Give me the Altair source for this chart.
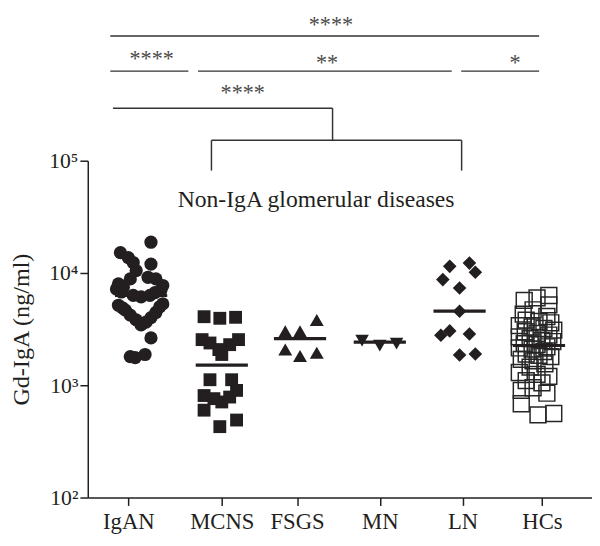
import altair as alt
import pandas as pd

# ---------------- data ----------------
groups = ["IgAN", "MCNS", "FSGS", "MN", "LN", "HCs"]
group_pos = [0.0, 1.13, 2.04, 3.04, 4.04, 5.0]

igan = [18800, 15200, 13700, 12400, 10500, 12000, 8850, 7500, 6770, 9160, 8850, 7740,
        7000, 6310, 6120, 6310, 6680, 8000, 7200, 5160, 4900, 4670, 4220, 3820, 3450,
        3650, 4000, 4450, 5000, 5300, 2640, 1880, 1760, 1800]
igan_jit = [23, -8, 0, 5, 8, 23, 2, -5, -7, 20, 28, 35, 33, 5, 13, 22, 27, -10, -12,
            -10, -6, -3, 2, 8, 13, 18, 23, 28, 32, 35, 23, 17, 7, 2]

mcns = [4080, 3950, 4030, 2550, 2380, 2080, 1880, 2300, 2550, 1120, 1120, 900, 810,
        760, 710, 785, 600, 428, 490]
mcns_jit = [-18, -2, 14, -20, -12, -3, 0, 8, 17, -12, 10, 15, -18, -8, 0, 8, -18, -2, 15]

fsgs = [3810, 3020, 3020, 2080, 1820, 1950]
fsgs_jit = [20, -12, 3, -12, 3, 20]

mn = [2500, 2250, 2350]
mn_jit = [-18, 0, 17]

ln = [11460, 12250, 10150, 8730, 7340, 4570, 2790, 3050, 2860, 1860, 1900]
ln_jit = [-13, 7, 13, -20, -3, -3, -22, -13, 7, -3, 13]

hcs = [6300, 6000, 5700, 5200, 4700, 4300, 4100, 3800, 3700, 3600, 3400, 3300, 3200,
       3100, 3000, 2900, 2800, 2700, 2600, 2500, 2450, 2350, 2300, 2200, 2150, 2100,
       2000, 1900, 1850, 1800, 1700, 1650, 1550, 1450, 1300, 1250, 1200, 1100, 1050,
       950, 900, 850, 685, 560, 545]
hcs_jit = [7, -5, -18, 7, -9, -19, 5, -16, -3, 9, -23, -10, 2, 12, -17, -5, 7, -23,
           -12, 0, 11, -18, -5, 5, -23, -10, 2, -16, -3, 9, -21, -9, 3, -12, -23, -5,
           7, -16, 0, -9, -21, 5, -21, 12, -4]

medians = [6300, 1510, 2600, 2420, 4570, 2260]
median_jit = [13, 0, 3, 0, -3, -3]

# significance brackets (x in category units, y in ng/ml)
seg_x = [-0.218, -0.218, 0.842, 4.024, -0.186, 2.469, 1.005, 1.005, 4.029]
seg_x2 = [4.966, 0.726, 3.910, 4.966, 2.469, 2.469, 4.029, 1.005, 4.029]
seg_y = [1.29e6, 6.28e5, 6.28e5, 6.28e5, 2.94e5, 2.94e5, 1.52e5, 1.52e5, 1.52e5]
seg_y2 = [1.29e6, 6.28e5, 6.28e5, 6.28e5, 2.94e5, 1.52e5, 1.52e5, 8.17e4, 8.17e4]

star_text = ["****", "****", "**", "*", "****"]
star_x = [2.449, 0.282, 2.401, 4.675, 1.383]
star_y = [1.41e6, 6.95e5, 6.41e5, 6.41e5, 3.50e5]

label_text = ["Non-IgA glomerular diseases"]
label_x = [2.27]
label_y = [38900]

# ---------------- layout ----------------
X_MIN, X_MAX = -0.49, 5.605
W, H = 512, 342
PX = W / (X_MAX - X_MIN)
HALF = 26.5 / PX
INK = "#231f20"
FONT = "Liberation Serif"

rows = []
for g, pos, vals, jit in zip(groups, group_pos,
                             [igan, mcns, fsgs, mn, ln, hcs],
                             [igan_jit, mcns_jit, fsgs_jit, mn_jit, ln_jit, hcs_jit]):
    for v, d in zip(vals, jit):
        rows.append({"group": g, "x": pos + d / PX, "value": v})
pts = pd.DataFrame(rows)

med = pd.DataFrame({
    "group": groups,
    "xa": [p + j / PX - HALF for p, j in zip(group_pos, median_jit)],
    "xb": [p + j / PX + HALF for p, j in zip(group_pos, median_jit)],
    "value": medians,
})
segs = pd.DataFrame({"x": seg_x, "x2": seg_x2, "y": seg_y, "y2": seg_y2})
stars = pd.DataFrame({"x": star_x, "y": star_y, "t": star_text})
lab = pd.DataFrame({"x": label_x, "y": label_y, "t": label_text})

xscale = alt.Scale(domain=[X_MIN, X_MAX], nice=False, zero=False)
yscale = alt.Scale(type="log", domain=[100, 100000], nice=False)

pos_list = "[" + ",".join(str(p) for p in group_pos) + "]"
name_list = "[" + ",".join("'" + g + "'" for g in groups) + "]"

x_axis = alt.Axis(values=group_pos, labelExpr=f"{name_list}[indexof({pos_list}, datum.value)]",
                  title=None, grid=False, tickSize=8, labelPadding=5, labelFontSize=23)
y_axis = alt.Axis(values=[100, 1000, 10000, 100000],
                  labelExpr="datum.value == 100 ? '10²' : datum.value == 1000 ? '10³' : "
                            "datum.value == 10000 ? '10⁴' : '10⁵'",
                  title="Gd-IgA (ng/ml)", grid=False, tickSize=8, labelPadding=2,
                  labelFontSize=22, titleFontSize=24.5, titleFontWeight="normal",
                  titlePadding=16)


def X(field):
    return alt.X(field, scale=xscale, axis=x_axis)


def Y(field):
    return alt.Y(field, scale=yscale, axis=y_axis)


base = alt.Chart(pts)

shape_map = {"IgAN": ("circle", 180), "MCNS": ("square", 170), "FSGS": ("triangle-up", 200),
             "MN": ("triangle-down", 190), "LN": ("diamond", 190)}
layers = []
for g, (shp, sz) in shape_map.items():
    layers.append(
        base.transform_filter(alt.datum.group == g)
        .mark_point(shape=shp, size=sz, filled=True, opacity=1, color=INK)
        .encode(x=X("x:Q"), y=Y("value:Q"))
    )
layers.append(
    base.transform_filter(alt.datum.group == "HCs")
    .mark_point(shape="square", size=260, filled=False, opacity=1, color="#262626",
                strokeWidth=1.5)
    .encode(x=X("x:Q"), y=Y("value:Q"))
)

med_layer = alt.Chart(med).mark_rule(color=INK, strokeWidth=3.2).encode(
    x=X("xa:Q"), x2="xb:Q", y=Y("value:Q"),
)
seg_layer = alt.Chart(segs).mark_rule(color="#333333", strokeWidth=1.5).encode(
    x=X("x:Q"), x2="x2:Q", y=Y("y:Q"), y2="y2:Q",
)
star_layer = alt.Chart(stars).mark_text(font=FONT, fontSize=22.5, color="#4a4a4a",
                                        baseline="alphabetic", align="center").encode(
    x=X("x:Q"), y=Y("y:Q"), text="t:N",
)
lab_layer = alt.Chart(lab).mark_text(font=FONT, fontSize=24, color=INK,
                                     baseline="alphabetic", align="center").encode(
    x=X("x:Q"), y=Y("y:Q"), text="t:N",
)

chart = alt.layer(*layers, med_layer, seg_layer, star_layer, lab_layer).properties(
    width=W, height=H, padding={"left": 0, "top": 1, "right": 0, "bottom": 0},
    background="white",
).configure_view(stroke=None).configure_axis(
    domainColor=INK, tickColor=INK, domainWidth=1.5, tickWidth=1.5,
    labelFont=FONT, titleFont=FONT, labelColor=INK, titleColor=INK,
)

chart.save("out.html", embed_options={"renderer": "svg", "actions": False})
